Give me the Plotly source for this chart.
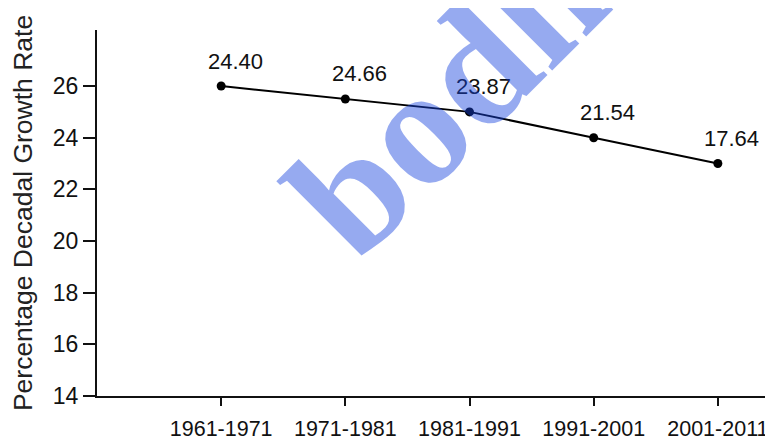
import plotly.graph_objects as go

periods = ["1961-1971", "1971-1981", "1981-1991", "1991-2001", "2001-2011"]
plotted_y = [26.0, 25.5, 25.0, 24.0, 23.0]
labels = ["24.40", "24.66", "23.87", "21.54", "17.64"]
y_ticks = [14, 16, 18, 20, 22, 24, 26]

x = list(range(len(periods)))

fig = go.Figure()
fig.add_trace(go.Scatter(
    x=x, y=plotted_y, mode="lines+markers",
    line=dict(color="black", width=2),
    marker=dict(color="black", size=9),
    showlegend=False, hoverinfo="skip",
))

for xi, yi, lab in zip(x, plotted_y, labels):
    fig.add_annotation(x=xi, y=yi, text=lab, showarrow=False,
                       xshift=14, yshift=25,
                       font=dict(family="Liberation Sans, Arial", size=22, color="#111"))

# watermark
fig.add_annotation(xref="paper", yref="paper", x=(462 - 97) / 673, y=(443 - 47 - 80) / 366,
                   text="<b>bodhi</b>", showarrow=False, textangle=-45,
                   xanchor="center", yanchor="middle",
                   font=dict(family="Liberation Serif, Times New Roman", size=168,
                             color="rgba(22,67,222,0.45)"))

fig.update_layout(
    width=765, height=435,
    margin=dict(l=89, r=3, t=22, b=47, autoexpand=False),
    paper_bgcolor="white", plot_bgcolor="white",
    font=dict(family="Liberation Sans, Arial", color="#111"),
    xaxis=dict(range=[-1.0, 4.42], tickvals=x, ticktext=periods, automargin=False,
               showline=True, linecolor="#111", linewidth=2,
               ticks="outside", ticklen=8, tickwidth=1.5, tickcolor="#111",
               ticklabelstandoff=4,
               showgrid=False, zeroline=False, tickfont=dict(size=21.5)),
    yaxis=dict(range=[14, 28.17], tickvals=y_ticks, automargin=False,
               showline=True, linecolor="#111", linewidth=2,
               ticks="outside", ticklen=12, tickwidth=1.5, tickcolor="#111",
               showgrid=False, zeroline=False, tickfont=dict(size=23),
               title=dict(text="Percentage Decadal Growth Rate", font=dict(size=26.5, color="#222"), standoff=14)),
)

fig.write_html("out.html")
